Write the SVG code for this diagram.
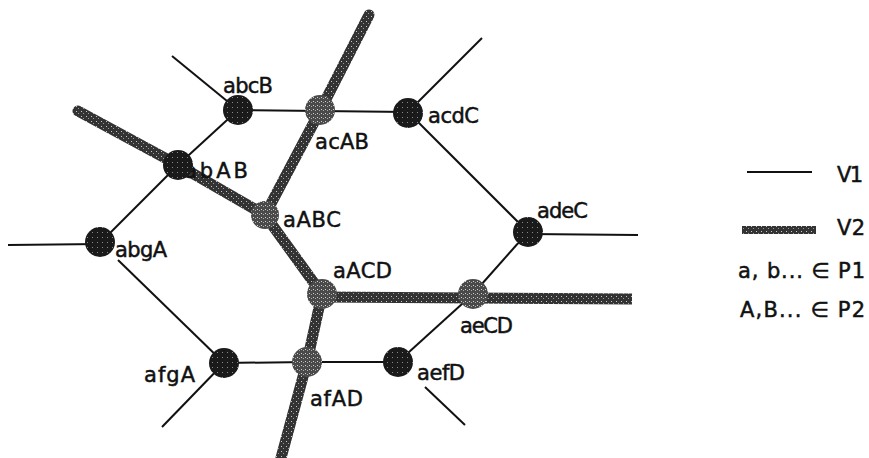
<svg xmlns="http://www.w3.org/2000/svg" width="869" height="458" viewBox="0 0 869 458">
<defs>
<pattern id="stip" width="5" height="5" patternUnits="userSpaceOnUse">
<rect width="5" height="5" fill="#333"/>
<rect x="1" y="1" width="1" height="1" fill="#c8c8c8"/>
<rect x="3" y="3" width="1" height="1" fill="#9a9a9a"/>
</pattern>
<pattern id="darkdot" width="5" height="5" patternUnits="userSpaceOnUse">
<rect width="5" height="5" fill="#1a1a1a"/>
<rect x="2" y="2" width="1" height="1" fill="#888"/>
</pattern>
<pattern id="greydot" width="4" height="4" patternUnits="userSpaceOnUse">
<rect width="4" height="4" fill="#4a4a4a"/>
<rect x="1" y="1" width="1" height="1" fill="#d0d0d0"/>
<rect x="3" y="2" width="1" height="1" fill="#aaa"/>
</pattern>
<style>
.v1{fill:none;stroke:#111;stroke-width:2}
.v2{fill:none;stroke:url(#stip);stroke-width:11;stroke-linecap:round;stroke-linejoin:round}
.nd{fill:url(#darkdot)}
.ng{fill:url(#greydot)}
.lb{font-family:"DejaVu Sans","Liberation Sans",sans-serif;font-size:21px;fill:#111;stroke:#111;stroke-width:0.5}
</style>
</defs>
<rect width="869" height="458" fill="#fff"/>
<g id="connectors">
<line class="v1" x1="172" y1="56" x2="238" y2="110"/>
<polyline class="v1" points="238,110 320,111 408,112"/>
<line class="v1" x1="408" y1="112" x2="482" y2="38"/>
<line class="v1" x1="408" y1="112" x2="528" y2="232"/>
<line class="v1" x1="528" y1="234" x2="638" y2="235"/>
<line class="v1" x1="528" y1="232" x2="473" y2="294"/>
<line class="v1" x1="473" y1="294" x2="398" y2="362"/>
<polyline class="v1" points="398,362 307,362 224,363"/>
<line class="v1" x1="425" y1="387" x2="465" y2="425"/>
<line class="v1" x1="224" y1="363" x2="162" y2="427"/>
<line class="v1" x1="118" y1="260" x2="224" y2="363"/>
<line class="v1" x1="8" y1="245" x2="100" y2="244"/>
<line class="v1" x1="100" y1="243" x2="178" y2="165"/>
<line class="v1" x1="178" y1="165" x2="238" y2="110"/>
<polyline class="v2" points="78,111 178,165 265,215 322,294"/>
<polyline class="v2" points="369,15 320,111 265,215"/>
<line class="v2" x1="322" y1="297" x2="632" y2="299" style="stroke-linecap:butt"/>
<polyline class="v2" points="322,294 307,362 281,458"/>
</g>
<g id="abcB"><circle class="nd" cx="238" cy="110" r="15"/><text class="lb" x="223" y="93" textLength="50">abcB</text></g>
<g id="acAB"><circle class="ng" cx="320" cy="110" r="15"/><text class="lb" x="315" y="149" textLength="54">acAB</text></g>
<g id="acdC"><circle class="nd" cx="408" cy="113" r="15"/><text class="lb" x="428" y="123" textLength="51">acdC</text></g>
<g id="abAB"><text class="lb" x="184" y="178" textLength="64">abAB</text><circle class="nd" cx="178" cy="165" r="15"/></g>
<g id="aABC"><circle class="ng" cx="265" cy="215" r="14"/><text class="lb" x="283" y="227" textLength="58">aABC</text></g>
<g id="abgA"><circle class="nd" cx="100" cy="242" r="15"/><text class="lb" x="115" y="257" textLength="52">abgA</text></g>
<g id="adeC"><circle class="nd" cx="528" cy="232" r="15"/><text class="lb" x="537" y="218" textLength="51">adeC</text></g>
<g id="aACD"><circle class="ng" cx="322" cy="294" r="15"/><text class="lb" x="333" y="278" textLength="59">aACD</text></g>
<g id="aeCD"><circle class="ng" cx="473" cy="294" r="15"/><text class="lb" x="460" y="333" textLength="53">aeCD</text></g>
<g id="afgA"><circle class="nd" cx="224" cy="363" r="15"/><text class="lb" x="144" y="382" textLength="51">afgA</text></g>
<g id="afAD"><circle class="ng" cx="307" cy="362" r="15"/><text class="lb" x="310" y="406" textLength="53">afAD</text></g>
<g id="aefD"><circle class="nd" cx="398" cy="362" r="15"/><text class="lb" x="417" y="380" textLength="48">aefD</text></g>
<g id="legend">
<line class="v1" x1="747" y1="172" x2="812" y2="172"/>
<text class="lb" x="837" y="182" textLength="26">V1</text>
<rect x="742" y="226" width="74" height="8" fill="url(#stip)"/>
<text class="lb" x="837" y="235" textLength="28">V2</text>
<text class="lb" x="738" y="278" textLength="127">a, b... ∈ P1</text>
<text class="lb" x="740" y="317" textLength="125">A,B... ∈ P2</text>
</g>
</svg>
